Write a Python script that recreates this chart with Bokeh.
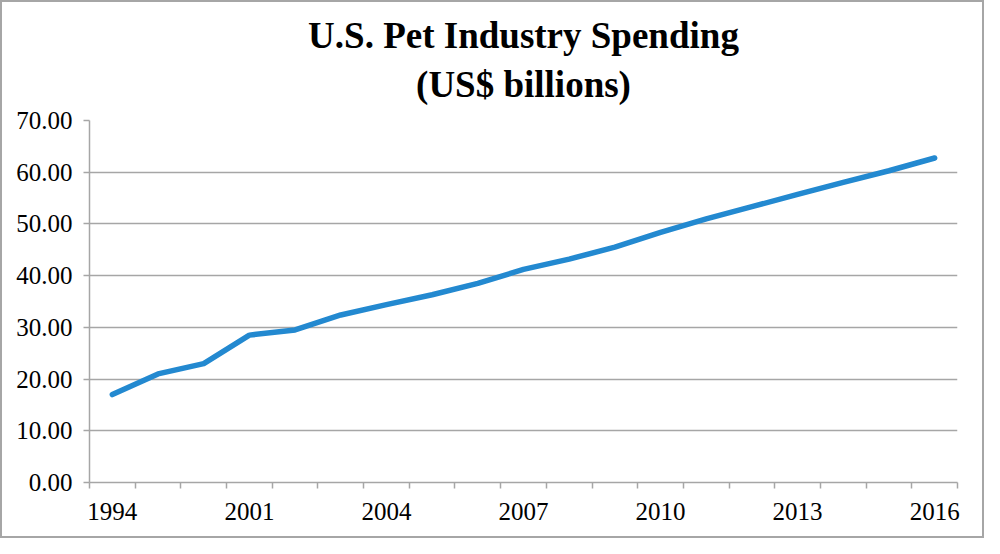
from bokeh.plotting import figure
from bokeh.models import Range1d, FixedTicker, Title
from bokeh.embed import file_html
from bokeh.resources import INLINE

years = ["1994", "1996", "1998", "2001", "2002", "2003", "2004", "2005", "2006", "2007",
         "2008", "2009", "2010", "2011", "2012", "2013", "2014", "2015", "2016"]
spending = [17.0, 21.0, 23.0, 28.5, 29.5, 32.4, 34.4, 36.3, 38.5, 41.2,
            43.2, 45.5, 48.35, 50.96, 53.33, 55.72, 58.04, 60.28, 62.75]
y_ticks = [0, 10, 20, 30, 40, 50, 60, 70]
title_lines = ["U.S. Pet Industry Spending", "(US$ billions)"]
label_every = 3

FONT = "Liberation Serif"
GRAY = "#a6a6a6"

n = len(years)
xs = [i + 0.5 for i in range(n)]

p = figure(width=984, height=538, output_backend="svg", toolbar_location=None,
           x_range=Range1d(0, n), y_range=Range1d(0, 70),
           min_border_left=87, min_border_right=29, min_border_top=118, min_border_bottom=58)
p.styles = {"border": "2px solid #a6a6a6", "box-sizing": "border-box"}

# the last title added sits on top
p.add_layout(Title(text=title_lines[1], text_font=FONT, text_font_size="37px",
                   text_font_style="bold", align="center", text_color="black", standoff=31), "above")
p.add_layout(Title(text=title_lines[0], text_font=FONT, text_font_size="37px",
                   text_font_style="bold", align="center", text_color="black", standoff=-18), "above")

p.line(xs, spending, line_color="#2389d0", line_width=5.5, line_cap="round", line_join="round")

p.outline_line_color = None
p.xgrid.grid_line_color = None
p.ygrid.grid_line_color = GRAY
p.ygrid.grid_line_width = 1.5
p.ygrid.ticker = FixedTicker(ticks=y_ticks)

ya = p.yaxis[0]
ya.ticker = FixedTicker(ticks=y_ticks)
ya.major_label_overrides = {t: f"{t:.2f}" for t in y_ticks}
ya.axis_line_color = GRAY
ya.axis_line_width = 1.5
ya.major_tick_line_color = GRAY
ya.major_tick_line_width = 1.5
ya.major_tick_in = 0
ya.major_tick_out = 6
ya.minor_tick_line_color = None
ya.major_label_standoff = 11
ya.major_label_text_font = FONT
ya.major_label_text_font_size = "25px"
ya.major_label_text_color = "black"

label_pos = [xs[i] for i in range(0, n, label_every)]
xa = p.xaxis[0]
xa.ticker = FixedTicker(ticks=label_pos, minor_ticks=list(range(n + 1)))
xa.major_label_overrides = {xs[i]: years[i] for i in range(0, n, label_every)}
xa.axis_line_color = GRAY
xa.axis_line_width = 1.5
xa.major_tick_line_color = None
xa.major_tick_in = 0
xa.major_tick_out = 6
xa.minor_tick_line_color = GRAY
xa.minor_tick_line_width = 1.5
xa.minor_tick_in = 0
xa.minor_tick_out = 6
xa.major_label_standoff = 14
xa.major_label_text_font = FONT
xa.major_label_text_font_size = "25px"
xa.major_label_text_color = "black"

open("out.html", "w").write(file_html(p, INLINE))
